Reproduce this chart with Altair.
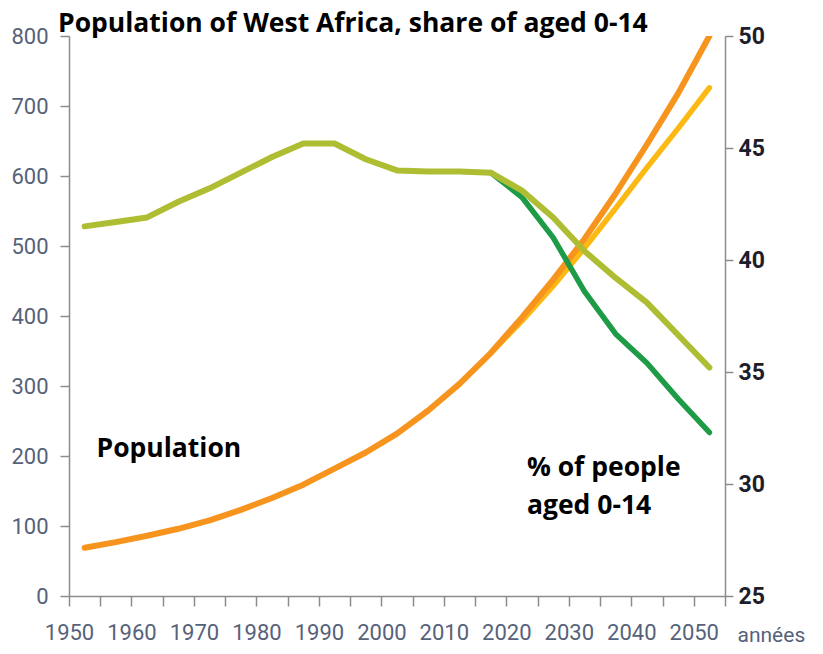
import altair as alt
import pandas as pd

# ---- data ----
years = [1952.5, 1957.5, 1962.5, 1967.5, 1972.5, 1977.5, 1982.5, 1987.5, 1992.5, 1997.5,
         2002.5, 2007.5, 2012.5, 2017.5, 2022.5, 2027.5, 2032.5, 2037.5, 2042.5, 2047.5, 2052.5]
pop_main = [69, 77, 86, 96, 108, 123, 140, 159, 182, 205,
            232, 265, 303, 347, 398, 452, 510, 575, 645, 718, 800]
proj_years = [2017.5, 2022.5, 2027.5, 2032.5, 2037.5, 2042.5, 2047.5, 2052.5]
pop_low = [347, 393, 443, 497, 554, 612, 668, 726]
share_main = [41.5, 41.7, 41.9, 42.6, 43.2, 43.9, 44.6, 45.2, 45.2, 44.5,
              44.0, 43.95, 43.95, 43.9, 43.1, 41.9, 40.4, 39.2, 38.1, 36.65, 35.2]
share_low = [43.9, 42.8, 41.0, 38.6, 36.7, 35.4, 33.8, 32.3]

ann_text = ["Population", "% of people", "aged 0-14"]
ann_year = [1954.4, 2023.3, 2023.3]
ann_pop = [210, 183, 129]

x_ticks = list(range(1950, 2056, 5))
y_left_ticks = list(range(0, 801, 100))
y_right_ticks = list(range(25, 51, 5))

df_main = pd.DataFrame({"year": years, "pop": pop_main, "share": share_main})
df_proj = pd.DataFrame({"year": proj_years, "pop": pop_low, "share": share_low})
df_ann = pd.DataFrame({"year": ann_year, "pop": ann_pop, "text": ann_text})

AX_COL = "#8c8c8c"
LBL_COL = "#56627a"
LFONT = "Roboto"

x_axis = alt.Axis(values=x_ticks, labelExpr="datum.value % 10 == 0 && datum.value <= 2050 ? datum.value : ''",
                  grid=False, tickSize=10, tickColor=AX_COL, tickWidth=1.5, domainColor=AX_COL,
                  domainWidth=1.5, labelFont=LFONT, labelFontSize=22, labelColor=LBL_COL,
                  labelPadding=16, labelFlush=False, labelOverlap=False,
                  title="années", titleFont=LFONT, titleFontSize=21, titleFontWeight="normal",
                  titleColor=LBL_COL, titleAlign="left", titleBaseline="alphabetic",
                  titleX=668, titleY=45, titleAngle=0)
x_enc = alt.X("year:Q", scale=alt.Scale(domain=[1950, 2055], nice=False, zero=False), axis=x_axis)

yl_axis = alt.Axis(values=y_left_ticks, grid=False, tickSize=9, tickColor=AX_COL, tickWidth=1.5,
                   domainColor=AX_COL, domainWidth=1.5, labelFont=LFONT, labelFontSize=22,
                   labelColor=LBL_COL, labelPadding=12, title=None, labelFlush=False)
yl_scale = alt.Scale(domain=[0, 800], nice=False)

yr_axis = alt.Axis(values=y_right_ticks, orient="right", grid=False, tickSize=8, tickColor=AX_COL,
                   tickWidth=1.5, domainColor=AX_COL, domainWidth=1.5, labelFont=LFONT,
                   labelFontSize=23, labelFontWeight="bold", labelColor="#1d1d2b",
                   labelPadding=5, title=None, labelFlush=False)
yr_scale = alt.Scale(domain=[25, 50], nice=False, zero=False)

def line(df, field, scale, axis, color, width):
    return alt.Chart(df).mark_line(color=color, strokeWidth=width, strokeCap="round",
                                   strokeJoin="round", clip=True).encode(
        x=x_enc, y=alt.Y(f"{field}:Q", scale=scale, axis=axis))

yellow = line(df_proj, "pop", yl_scale, yl_axis, "#fdb913", 5.5)
orange = line(df_main, "pop", yl_scale, yl_axis, "#f7941d", 6)
text = alt.Chart(df_ann).mark_text(align="left", baseline="middle", font="Open Sans",
                                   fontWeight="bold", fontSize=26.5, color="black").encode(
    x=x_enc, y=alt.Y("pop:Q", scale=yl_scale, axis=yl_axis), text="text:N")
left = alt.layer(yellow, orange, text)

dgreen = line(df_proj, "share", yr_scale, yr_axis, "#1e9b47", 5.5)
olive = line(df_main, "share", yr_scale, yr_axis, "#afbd32", 6)
right = alt.layer(dgreen, olive)

chart = alt.layer(left, right).resolve_scale(y="independent").properties(
    width=656, height=560,
    title=alt.TitleParams(text="Population of West Africa, share of aged 0-14", anchor="start",
                          frame="group", dx=-11, offset=-39, font="Open Sans", fontSize=26.5,
                          fontWeight="bold", color="black", baseline="bottom", orient="top"),
    padding={"left": 61, "top": 28, "right": 89, "bottom": 50},
    autosize=alt.AutoSizeParams(type="none"),
).configure_view(stroke=None)

chart.save("out.html", embed_options={"renderer": "svg", "actions": False})
